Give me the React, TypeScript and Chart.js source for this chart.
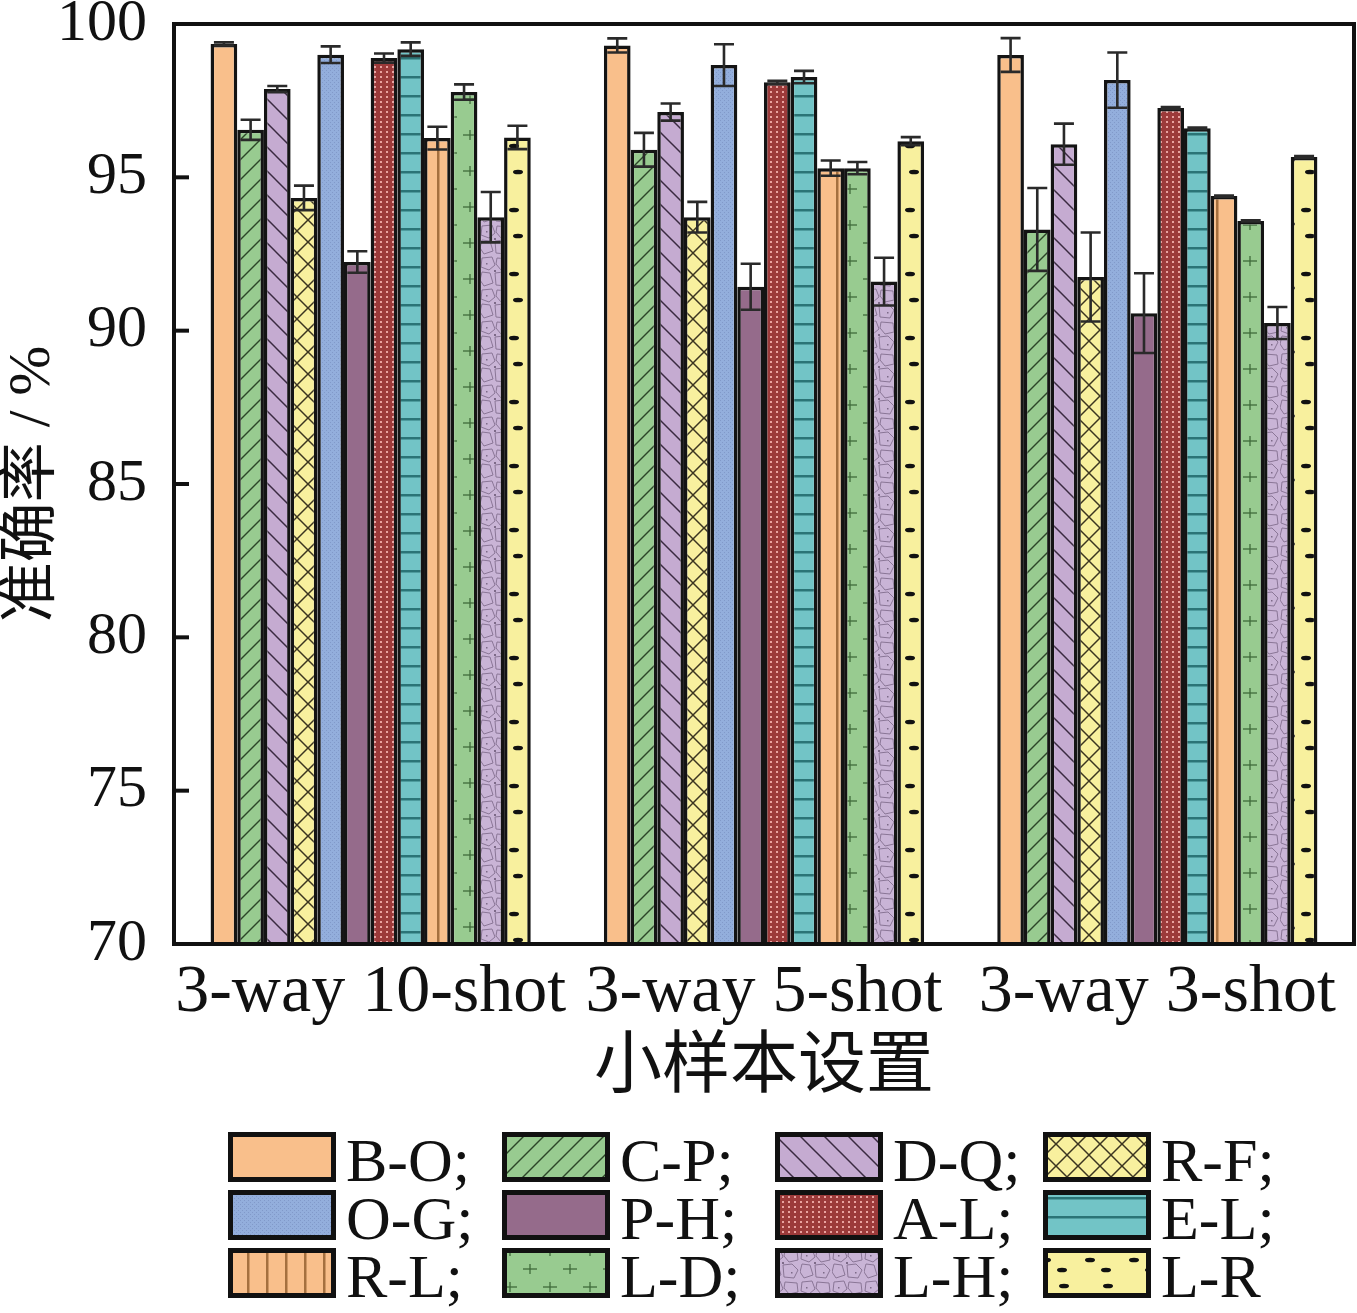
import React, { useEffect, useRef } from 'react';
import { Chart, registerables } from 'chart.js';

Chart.register(...registerables);

// ---------- data ----------
const categories = ['3-way 10-shot', '3-way 5-shot', '3-way 3-shot'];
const seriesNames = ['B-O', 'C-P', 'D-Q', 'R-F', 'O-G', 'P-H', 'A-L', 'E-L', 'R-L', 'L-D', 'L-H', 'L-R'];

const valBO = [99.35, 99.3, 98.99];
const valCP = [96.55, 95.9, 93.3];
const valDQ = [97.88, 97.13, 96.08];
const valRF = [94.33, 93.7, 91.75];
const valOG = [99.0, 98.66, 98.17];
const valPH = [92.24, 91.43, 90.57];
const valAL = [98.89, 98.1, 97.26];
const valEL = [99.18, 98.27, 96.6];
const valRL = [96.28, 95.3, 94.39];
const valLD = [97.78, 95.3, 93.58];
const valLH = [93.7, 91.6, 90.25];
const valLR = [96.3, 96.18, 95.66];

const errBO = [0.05, 0.23, 0.55];
const errCP = [0.33, 0.55, 1.35];
const errDQ = [0.1, 0.28, 0.67];
const errRF = [0.4, 0.5, 1.45];
const errOG = [0.27, 0.68, 0.9];
const errPH = [0.35, 0.75, 1.3];
const errAL = [0.15, 0.05, 0.03];
const errEL = [0.22, 0.2, 0.02];
const errRL = [0.37, 0.25, 0.02];
const errLD = [0.25, 0.2, 0.02];
const errLH = [0.82, 0.78, 0.52];
const errLR = [0.38, 0.13, 0.03];

const yTicks = [70, 75, 80, 85, 90, 95, 100];
const yTitle = '准确率 / %';
const xTitle = '小样本设置';

const allValues = [valBO, valCP, valDQ, valRF, valOG, valPH, valAL, valEL, valRL, valLD, valLH, valLR];
const allErrors = [errBO, errCP, errDQ, errRF, errOG, errPH, errAL, errEL, errRL, errLD, errLH, errLR];

// ---------- styling ----------
const SERIF = "'Liberation Serif', 'Times New Roman', 'Noto Sans CJK SC', serif";
const ORANGE = '#F9BF8B';
const GREEN = '#98CB90';
const LAV = '#C5ABD1';
const LAV2 = '#C9B4D6';
const YELLOW = '#F8F09E';
const BLUE = '#93AEDC';
const MAUVE = '#956B8B';
const DRED = '#9C3A3A';
const TEAL = '#72C4C6';

type Drawer = (g: CanvasRenderingContext2D, w: number, h: number) => void;

function makePattern(bg: string, w: number, h: number, draw?: Drawer): CanvasPattern | string {
  const c = document.createElement('canvas');
  c.width = w;
  c.height = h;
  const g = c.getContext('2d');
  if (!g) return bg;
  g.fillStyle = bg;
  g.fillRect(0, 0, w, h);
  if (draw) draw(g, w, h);
  return g.createPattern(c, 'repeat') || bg;
}

function line(g: CanvasRenderingContext2D, x1: number, y1: number, x2: number, y2: number) {
  g.beginPath();
  g.moveTo(x1, y1);
  g.lineTo(x2, y2);
  g.stroke();
}

function buildFills(): (CanvasPattern | string)[] {
  const fBO = ORANGE;
  const fCP = makePattern(GREEN, 20, 20, (g, w, h) => {
    g.strokeStyle = '#2c4628';
    g.lineWidth = 1.4;
    line(g, -2, h + 2, w + 2, -2);
    line(g, -12, 12, 12, -12);
    line(g, w - 12, h + 12, w + 12, h - 12);
  });
  const fDQ = makePattern(LAV, 24, 24, (g, w, h) => {
    g.strokeStyle = '#3a2a40';
    g.lineWidth = 1.5;
    line(g, -2, -2, w + 2, h + 2);
    line(g, -12, h - 12, 12, h + 12);
    line(g, w - 12, -12, w + 12, 12);
  });
  const fRF = makePattern(YELLOW, 22, 22, (g, w, h) => {
    g.strokeStyle = '#3b3520';
    g.lineWidth = 1.5;
    line(g, -2, -2, w + 2, h + 2);
    line(g, -2, h + 2, w + 2, -2);
  });
  const fOG = makePattern(BLUE, 4, 4, (g) => {
    g.fillStyle = '#8199c9';
    g.fillRect(0, 0, 1, 1);
    g.fillRect(2, 2, 1, 1);
  });
  const fPH = MAUVE;
  const fAL = makePattern(DRED, 6, 5, (g) => {
    g.fillStyle = '#E9A3A0';
    g.fillRect(2, 1, 2, 2);
  });
  const fEL = makePattern(TEAL, 10, 19, (g) => {
    g.fillStyle = '#2B7476';
    g.fillRect(0, 0, 10, 2.5);
  });
  const fRL = makePattern(ORANGE, 19, 10, (g) => {
    g.fillStyle = '#A5703F';
    g.fillRect(0, 0, 2.5, 10);
  });
  const fLD = makePattern(GREEN, 40, 36, (g) => {
    g.strokeStyle = '#3e6a3a';
    g.lineWidth = 1.3;
    const plus = (x: number, y: number) => {
      line(g, x - 7, y, x + 7, y);
      line(g, x, y - 5, x, y + 5);
    };
    plus(10, 9);
    plus(30, 27);
  });
  const fLH = makePattern(LAV2, 32, 32, (g) => {
    g.strokeStyle = '#8a7696';
    g.lineWidth = 1;
    const polys = [
      [[2, 2], [12, 1], [15, 9], [9, 14], [1, 11]],
      [[17, 2], [29, 3], [30, 12], [21, 14], [16, 8]],
      [[2, 16], [10, 17], [13, 27], [4, 30], [0, 24]],
      [[15, 17], [24, 16], [30, 22], [26, 30], [16, 29]],
    ];
    polys.forEach((p) => {
      g.beginPath();
      g.moveTo(p[0][0], p[0][1]);
      for (let k = 1; k < p.length; k++) g.lineTo(p[k][0], p[k][1]);
      g.closePath();
      g.stroke();
    });
    g.fillStyle = '#7d6a88';
    g.fillRect(14, 14, 2, 2);
    g.fillRect(6, 7, 1.5, 1.5);
    g.fillRect(23, 24, 1.5, 1.5);
  });
  const fLR = makePattern(YELLOW, 44, 64, (g) => {
    g.fillStyle = '#111';
    const dash = (x: number, y: number) => {
      g.beginPath();
      g.ellipse(x, y, 5, 2.3, 0, 0, Math.PI * 2);
      g.fill();
    };
    dash(8, 6);
    dash(30, 18);
    dash(14, 32);
    dash(34, 44);
    dash(6, 54);
  });
  return [fBO, fCP, fDQ, fRF, fOG, fPH, fAL, fEL, fRL, fLD, fLH, fLR];
}

// ---------- plugins ----------
const errorBarPlugin = {
  id: 'errorBars',
  afterDatasetsDraw(chart: any) {
    const ctx = chart.ctx;
    const yScale = chart.scales.y;
    ctx.save();
    ctx.strokeStyle = '#2a2a2a';
    ctx.lineWidth = 2.6;
    chart.data.datasets.forEach((ds: any, i: number) => {
      const meta = chart.getDatasetMeta(i);
      const errs = allErrors[i];
      meta.data.forEach((bar: any, j: number) => {
        const v = ds.data[j];
        const e = errs[j];
        const yTop = yScale.getPixelForValue(v + e);
        const yBot = yScale.getPixelForValue(v - e);
        const x = bar.x;
        const cap = 10;
        ctx.beginPath();
        ctx.moveTo(x, yTop);
        ctx.lineTo(x, yBot);
        ctx.moveTo(x - cap, yTop);
        ctx.lineTo(x + cap, yTop);
        ctx.moveTo(x - cap, yBot);
        ctx.lineTo(x + cap, yBot);
        ctx.stroke();
      });
    });
    ctx.restore();
  },
};

const framePlugin = {
  id: 'frame',
  afterDatasetsDraw(chart: any) {
    const { ctx, chartArea } = chart;
    const { left, top, right, bottom } = chartArea;
    const yScale = chart.scales.y;
    ctx.save();
    ctx.strokeStyle = '#111';
    ctx.lineWidth = 4;
    ctx.strokeRect(left, top, right - left, bottom - top);
    yScale.ticks.forEach((t: any) => {
      if (t.value <= yScale.min || t.value >= yScale.max) return;
      const y = yScale.getPixelForValue(t.value);
      ctx.beginPath();
      ctx.moveTo(left, y);
      ctx.lineTo(left + 15, y);
      ctx.stroke();
    });
    ctx.restore();
  },
};

const legendPlugin = {
  id: 'gridLegend',
  afterDraw(chart: any) {
    const ctx = chart.ctx;
    const colX = [228, 502, 775, 1043];
    const rowTop = 1132;
    const rowStep = 58;
    const boxW = 108;
    const boxH = 50;
    ctx.save();
    const n = chart.data.datasets.length;
    chart.data.datasets.forEach((ds: any, i: number) => {
      const r = Math.floor(i / 4);
      const c = i % 4;
      const x = colX[c];
      const y = rowTop + r * rowStep;
      ctx.fillStyle = ds.backgroundColor;
      ctx.fillRect(x, y, boxW, boxH);
      ctx.strokeStyle = '#111';
      ctx.lineWidth = 5;
      ctx.strokeRect(x + 2.5, y + 2.5, boxW - 5, boxH - 5);
      ctx.fillStyle = '#111';
      ctx.font = `62px ${SERIF}`;
      ctx.textAlign = 'left';
      ctx.textBaseline = 'alphabetic';
      const label = ds.label + (i < n - 1 ? ';' : '');
      ctx.fillText(label, x + 118, y + boxH - 1);
    });
    ctx.restore();
  },
};

export default function App() {
  const ref = useRef<HTMLCanvasElement | null>(null);

  useEffect(() => {
    if (!ref.current) return;
    const fills = buildFills();
    const chart = new Chart(ref.current, {
      type: 'bar',
      data: {
        labels: categories,
        datasets: seriesNames.map((name, i) => ({
          label: name,
          data: allValues[i],
          backgroundColor: fills[i] as any,
          borderColor: '#141414',
          borderWidth: 3.5,
          borderSkipped: false,
          categoryPercentage: 0.814,
          barPercentage: 1.0,
        })),
      },
      options: {
        responsive: false,
        animation: false,
        devicePixelRatio: 1,
        layout: {
          autoPadding: false,
          padding: { left: 0, top: 24, right: 3, bottom: 210 },
        },
        plugins: {
          legend: { display: false },
          tooltip: { enabled: false },
          title: { display: false },
        },
        scales: {
          x: {
            grid: { display: false, drawTicks: false },
            border: { display: false },
            ticks: {
              color: '#111',
              padding: 8,
              font: { family: SERIF, size: 68 },
              maxRotation: 0,
              autoSkip: false,
            },
            title: {
              display: true,
              text: xTitle,
              color: '#111',
              font: { family: SERIF, size: 68, lineHeight: 1 },
              padding: { top: 0, bottom: 0 },
            },
            afterFit(scale: any) {
              scale.height = 1313 - 210 - 944;
              scale.paddingLeft = 0;
              scale.paddingRight = 0;
            },
          },
          y: {
            min: 70,
            max: 100,
            afterBuildTicks(scale: any) {
              scale.ticks = yTicks.map((v) => ({ value: v }));
            },
            grid: { display: false, drawTicks: false },
            border: { display: false },
            ticks: {
              color: '#111',
              padding: 27,
              font: { family: SERIF, size: 60 },
            },
            title: {
              display: true,
              text: yTitle,
              color: '#111',
              font: { family: SERIF, size: 60, lineHeight: 1 },
              padding: { top: 3, bottom: 0 },
            },
            afterFit(scale: any) {
              scale.width = 174;
              scale.paddingTop = 0;
              scale.paddingBottom = 0;
            },
          },
        },
      },
      plugins: [errorBarPlugin, framePlugin, legendPlugin],
    });
    return () => chart.destroy();
  }, []);

  return (
    <div style={{ position: 'absolute', left: 0, top: 0, width: 1357, height: 1313, background: '#fff' }}>
      <canvas ref={ref} width={1357} height={1313} style={{ width: 1357, height: 1313, display: 'block' }} />
    </div>
  );
}
